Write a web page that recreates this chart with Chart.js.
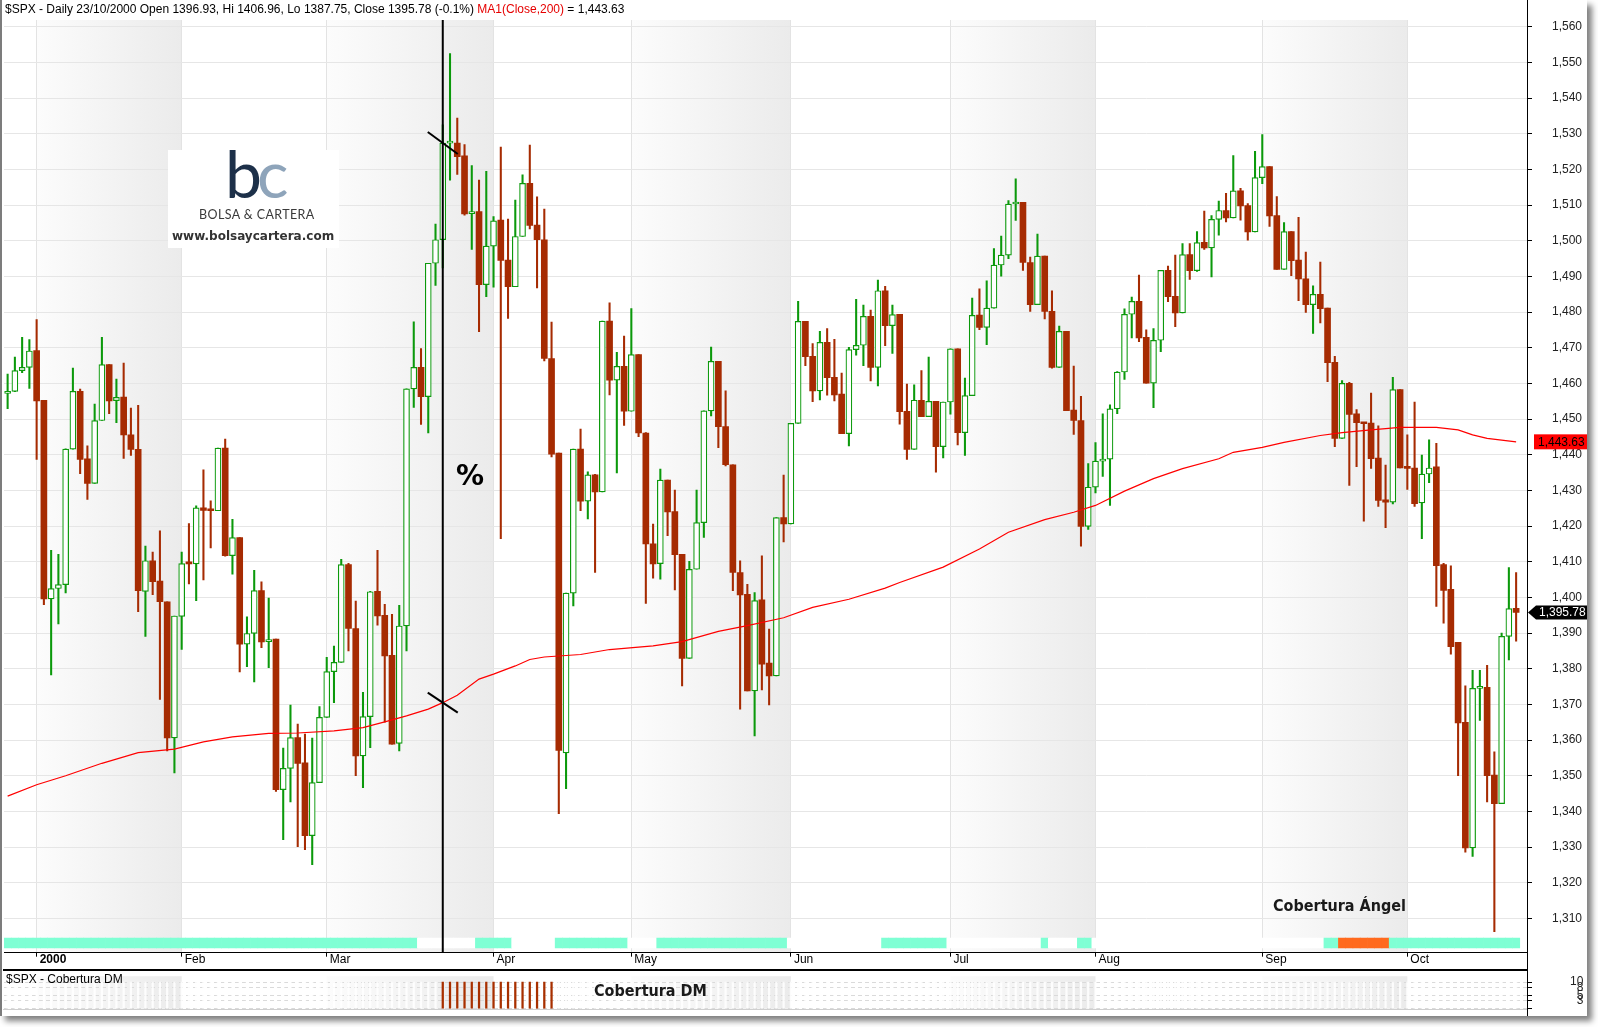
<!DOCTYPE html>
<html>
<head>
<meta charset="utf-8">
<title>$SPX - Daily</title>
<script src="https://cdn.jsdelivr.net/npm/chart.js@4.4.0/dist/chart.umd.min.js"></script>
<style>
html,body{margin:0;padding:0;background:#fff;width:1598px;height:1027px;overflow:hidden;font-family:'Liberation Sans',Arial,sans-serif}
#frame{position:absolute;left:0;top:0;width:1587px;height:1016px;background:#fff;box-shadow:5px 5px 6px rgba(0,0,0,.5);border-left:2px solid #7c7c7c;box-sizing:border-box}
#main{position:absolute;left:0;top:0}
#sub{position:absolute;left:0;top:969px}
.t{position:absolute;white-space:nowrap}
#hdr{left:5px;top:2px;font-size:12px;line-height:14px;color:#000}
#hdr .ma{color:#e60000}
#logo{position:absolute;left:168px;top:150px;width:171px;height:98px;background:#fff}
#logo .bc{position:absolute;left:57px;top:-10px;font-family:Lato,sans-serif;font-weight:400;font-size:66px;line-height:66px;letter-spacing:-5px}
#logo .b{color:#1d3049}
#logo .c{color:#8ea4ba}
#logo .name{position:absolute;left:31px;top:57px;font-family:Lato,sans-serif;font-size:12.5px;letter-spacing:.4px;color:#3a3a3a}
#logo .web{position:absolute;left:4px;top:79px;font-family:'DejaVu Sans',sans-serif;font-weight:bold;font-size:12px;color:#333}
.note{font-family:'DejaVu Sans Condensed','DejaVu Sans',sans-serif;font-stretch:condensed;font-weight:bold;font-size:16px;line-height:18px;color:#1a1a1a}
#pct{left:456px;top:462px;font-family:'DejaVu Sans',sans-serif;font-weight:bold;font-size:28px;line-height:28px;color:#000}
#angel{left:1273px;top:897px}
#dm{left:594px;top:982px}
#subhdr{left:6px;top:972px;font-size:12px;line-height:14px;color:#000}
</style>
</head>
<body>
<div id="frame"></div>
<canvas id="main" width="1598" height="969"></canvas>
<canvas id="sub" width="1598" height="47"></canvas>
<div class="t" id="hdr"></div>
<div id="logo"><span class="bc"><span class="b">b</span><span class="c">c</span></span><span class="name t">BOLSA &amp; CARTERA</span><span class="web t">www.bolsaycartera.com</span></div>
<div class="t" id="pct">%</div>
<div class="t note" id="angel">Cobertura Ángel</div>
<div class="t note" id="dm">Cobertura DM</div>
<div class="t" id="subhdr">$SPX - Cobertura DM</div>
<script>
// ---------- data ----------
var monthNames = ['Dec 1999','Jan','Feb','Mar','Apr','May','Jun','Jul','Aug','Sep','Oct'];
var monthDays = [
  [28,29,30,31],
  [3,4,5,6,7,10,11,12,13,14,18,19,20,21,24,25,26,27,28,31],
  [1,2,3,4,7,8,9,10,11,14,15,16,17,18,22,23,24,25,28,29],
  [1,2,3,6,7,8,9,10,13,14,15,16,17,20,21,22,23,24,27,28,29,30,31],
  [3,4,5,6,7,10,11,12,13,14,17,18,19,20,24,25,26,27,28],
  [1,2,3,4,5,8,9,10,11,12,15,16,17,18,19,22,23,24,25,26,30,31],
  [1,2,5,6,7,8,9,12,13,14,15,16,19,20,21,22,23,26,27,28,29,30],
  [3,5,6,7,10,11,12,13,14,17,18,19,20,21,24,25,26,27,28,31],
  [1,2,3,4,7,8,9,10,11,14,15,16,17,18,21,22,23,24,25,28,29,30,31],
  [1,5,6,7,8,11,12,13,14,15,18,19,20,21,22,25,26,27,28,29],
  [2,3,4,5,6,9,10,11,12,13,16,17,18,19,20,23]
];
var tickLabels = ['2000','Feb','Mar','Apr','May','Jun','Jul','Aug','Sep','Oct'];
var priceTicks = [1310,1320,1330,1340,1350,1360,1370,1380,1390,1400,1410,1420,1430,1440,1450,1460,1470,1480,1490,1500,1510,1520,1530,1540,1550,1560];
var dmTicks = [0,3,5,8,10];

var open = [1457.2,1457.8,1463.6,1464.5,1469.2,1455.3,1399.6,1402.5,1403.6,1441.6,
1457.8,1438.9,1432.0,1449.6,1465.3,1455.2,1456.2,1445.6,1441.5,1401.7,
1410.3,1404.6,1398.8,1360.6,1394.7,1409.6,1409.4,1425.1,1424.5,1424.3,
1441.9,1411.7,1416.8,1386.9,1389.9,1401.9,1387.6,1388.3,1346.1,1352.1,
1360.7,1353.6,1333.2,1348.1,1366.4,1379.2,1381.8,1409.2,1391.3,1355.6,
1366.6,1401.7,1395.0,1383.8,1359.1,1392.0,1458.5,1464.5,1456.3,1493.7,
1500.3,1527.4,1527.4,1523.8,1507.6,1508.2,1487.7,1498.5,1505.8,1494.6,
1487.1,1501.2,1516.1,1504.4,1500.3,1467.0,1440.5,1356.4,1401.2,1441.6,
1427.0,1434.4,1429.6,1477.5,1460.9,1464.8,1452.2,1468.1,1446.1,1415.0,
1409.5,1432.9,1424.1,1412.1,1382.9,1407.9,1421.0,1452.3,1466.2,1447.9,
1437.2,1407.0,1400.9,1373.8,1399.3,1381.6,1378.0,1422.4,1420.6,1448.8,
1477.4,1467.6,1457.9,1471.5,1461.7,1457.0,1445.9,1469.5,1470.7,1478.8,
1464.5,1486.0,1476.2,1479.4,1452.2,1441.5,1455.3,1450.7,1455.0,1442.3,
1454.8,1469.7,1446.2,1456.6,1479.2,1475.7,1481.1,1493.2,1496.0,1510.3,
1510.8,1493.9,1482.1,1495.7,1480.2,1464.5,1474.6,1452.5,1449.6,1419.9,
1430.9,1438.2,1438.8,1452.9,1463.2,1479.4,1483.0,1472.9,1460.1,1472.1,
1491.7,1484.4,1479.8,1496.1,1491.6,1499.6,1498.0,1506.0,1508.5,1506.4,
1514.0,1509.9,1502.5,1517.7,1520.8,1507.1,1492.0,1502.6,1494.6,1489.3,
1482.1,1485.0,1481.1,1465.9,1444.6,1460.0,1451.5,1449.1,1448.9,1439.1,
1427.4,1426.7,1458.3,1436.5,1436.3,1426.5,1434.6,1436.6,1409.2,1402.3,
1387.4,1365.0,1329.8,1374.5,1374.8,1350.2,1342.2,1389.1,1396.93];

var high = [1462.6,1467.4,1472.9,1472.3,1477.9,1455.3,1413.2,1412.1,1441.7,1464.3,
1458.4,1442.5,1454.2,1472.9,1465.3,1461.2,1465.7,1453.1,1453.9,1414.4,
1412.7,1418.7,1398.8,1394.8,1412.7,1420.7,1425.7,1435.8,1427.1,1441.9,
1444.4,1421.9,1416.8,1394.6,1407.6,1404.4,1399.8,1388.3,1357.8,1369.8,
1364.5,1361.7,1360.6,1369.4,1383.2,1386.4,1410.7,1409.6,1399.0,1373.4,
1401.7,1413.2,1398.1,1395.3,1397.8,1458.5,1477.3,1469.8,1493.7,1504.7,
1532.5,1552.5,1534.4,1527.0,1521.1,1517.0,1519.5,1506.8,1526.3,1506.1,
1511.4,1518.5,1526.8,1512.3,1508.9,1477.2,1440.5,1401.2,1441.6,1447.2,
1435.2,1434.5,1477.5,1482.6,1468.7,1473.3,1481.0,1468.1,1446.2,1420.6,
1436.0,1432.9,1430.1,1412.1,1410.1,1430.1,1452.3,1470.2,1466.2,1457.9,
1437.2,1410.3,1403.7,1401.4,1411.7,1391.1,1422.4,1434.3,1448.8,1483.0,
1477.4,1471.2,1474.6,1475.4,1472.4,1462.9,1470.1,1483.6,1482.0,1480.6,
1489.0,1487.2,1482.0,1479.4,1459.8,1459.6,1463.6,1467.4,1455.0,1454.8,
1469.7,1469.7,1461.5,1483.9,1486.5,1488.8,1497.8,1501.3,1511.3,1517.4,
1510.8,1495.4,1501.9,1495.7,1486.0,1476.1,1474.6,1464.9,1456.4,1437.5,
1443.4,1451.5,1454.0,1463.3,1480.9,1484.2,1490.4,1475.0,1475.4,1491.7,
1492.9,1496.0,1499.2,1499.2,1502.6,1508.3,1507.1,1511.1,1513.3,1523.9,
1514.7,1510.4,1525.1,1529.8,1520.8,1512.4,1505.1,1502.6,1506.6,1496.8,
1487.4,1494.0,1481.1,1467.6,1460.8,1460.3,1452.7,1449.1,1457.3,1448.1,
1437.1,1461.7,1458.3,1445.6,1454.8,1439.9,1444.2,1443.2,1409.6,1408.9,
1387.4,1375.2,1379.6,1379.6,1381.0,1356.7,1390.0,1408.4,1406.96];

var low = [1452.9,1457.7,1463.0,1458.6,1438.7,1398.0,1378.3,1392.6,1401.3,1441.6,
1434.7,1427.5,1432.0,1449.6,1451.5,1449.0,1439.0,1439.8,1396.0,1389.1,
1400.8,1371.4,1357.0,1350.8,1385.4,1403.8,1399.1,1404.9,1413.9,1424.3,
1411.6,1406.5,1379.1,1380.6,1376.3,1385.9,1380.3,1345.6,1332.1,1342.7,
1330.1,1329.3,1325.1,1348.1,1366.4,1370.5,1381.8,1385.0,1350.0,1346.7,
1357.9,1392.2,1365.0,1358.9,1357.0,1385.0,1453.3,1448.5,1446.1,1487.5,
1492.4,1517.0,1518.6,1507.2,1497.6,1474.5,1484.3,1487.0,1416.5,1478.2,
1487.1,1501.2,1503.3,1486.8,1466.3,1439.4,1339.4,1346.4,1397.6,1424.3,
1422.0,1407.0,1429.6,1456.8,1434.9,1448.2,1452.2,1445.1,1398.3,1405.4,
1405.1,1417.3,1402.1,1375.2,1382.9,1407.9,1416.8,1450.9,1442.0,1436.9,
1401.9,1368.7,1373.8,1361.2,1374.1,1369.9,1378.0,1415.6,1420.6,1448.8,
1465.0,1454.9,1455.4,1456.7,1455.1,1445.9,1442.5,1467.9,1465.0,1460.7,
1459.3,1470.6,1468.4,1448.6,1438.7,1441.5,1450.7,1450.7,1435.1,1439.1,
1451.4,1442.8,1439.8,1456.6,1475.1,1470.9,1481.1,1490.1,1495.0,1505.7,
1491.7,1480.2,1482.1,1478.1,1464.3,1464.5,1452.4,1445.7,1414.4,1419.1,
1429.3,1433.9,1425.8,1451.5,1461.1,1472.8,1471.7,1460.1,1453.2,1468.9,
1482.9,1475.9,1479.8,1489.2,1491.4,1497.6,1489.9,1501.6,1505.3,1506.4,
1505.8,1500.2,1502.5,1516.0,1504.0,1492.0,1492.0,1490.2,1483.2,1479.9,
1474.0,1477.0,1460.5,1442.3,1444.6,1431.4,1436.7,1421.4,1436.2,1425.5,
1419.6,1426.2,1436.3,1430.3,1425.5,1416.5,1432.2,1397.5,1392.8,1384.1,
1350.0,1328.6,1327.4,1365.5,1342.7,1306.3,1342.2,1382.5,1387.75];

var close = [1457.7,1463.6,1464.5,1469.1,1455.1,1399.6,1402.5,1403.6,1441.6,1457.8,
1438.7,1432.0,1449.6,1465.3,1455.1,1456.1,1445.6,1441.5,1401.9,1410.3,
1404.4,1398.8,1360.6,1394.8,1409.5,1409.4,1425.1,1424.4,1424.3,1441.9,
1411.7,1416.8,1386.9,1389.9,1401.9,1387.5,1388.2,1346.1,1352.1,1360.7,
1353.5,1333.2,1348.1,1366.4,1379.2,1381.8,1409.2,1391.3,1355.6,1366.6,
1401.6,1394.8,1383.6,1358.9,1392.0,1458.5,1464.5,1456.3,1493.7,1500.3,
1527.4,1527.5,1523.6,1507.5,1508.2,1487.7,1498.5,1505.6,1494.5,1487.1,
1501.2,1516.1,1504.3,1500.3,1467.0,1440.2,1357.1,1401.2,1441.6,1427.0,
1434.4,1429.6,1477.5,1460.9,1464.8,1452.2,1468.1,1446.1,1415.0,1409.4,
1432.9,1424.0,1412.0,1382.9,1407.9,1421.0,1452.3,1466.2,1447.9,1437.2,
1407.0,1400.7,1373.8,1399.1,1381.3,1378.0,1422.4,1420.6,1448.8,1477.4,
1467.5,1457.9,1471.5,1461.6,1456.8,1445.9,1469.5,1470.7,1478.8,1464.5,
1486.0,1476.2,1479.3,1452.1,1441.5,1455.3,1450.7,1455.0,1442.3,1454.8,
1469.7,1446.2,1456.6,1479.1,1475.7,1481.1,1493.2,1496.0,1510.3,1510.8,
1493.9,1482.1,1495.7,1480.2,1464.5,1474.6,1452.4,1449.6,1419.9,1430.9,
1438.2,1438.8,1452.9,1463.2,1479.4,1483.0,1472.8,1460.1,1472.1,1491.7,
1484.3,1479.8,1496.1,1491.6,1499.5,1498.0,1506.0,1508.5,1506.4,1514.0,
1509.8,1502.5,1517.7,1520.8,1507.0,1492.0,1502.6,1494.4,1489.3,1482.1,
1485.0,1481.0,1465.8,1444.6,1460.0,1451.3,1449.0,1448.7,1438.9,1427.2,
1426.7,1458.3,1436.3,1436.2,1426.3,1434.6,1436.3,1408.9,1402.0,1386.2,
1364.8,1329.8,1374.5,1374.8,1350.0,1342.2,1389.1,1396.9,1395.78];

// MA1(Close,200) read at sample days (1-based day number)
var maDay = [1,5,9,14,19,24,28,32,37,41,46,50,53,56,59,61,63,66,68,71,73,75,80,84,90,94,99,103,108,112,117,122,124,130,135,139,144,148,151,155,159,163,168,170,174,177,182,185,189,193,198,201,203,205,209];
var maValue = [1344.3,1347.5,1350.0,1353.5,1356.5,1357.5,1359.5,1360.9,1361.9,1362.0,1362.6,1363.5,1365.1,1366.8,1368.7,1370.5,1372.6,1377.1,1378.5,1380.8,1382.6,1383.3,1384.0,1385.4,1386.4,1387.6,1390.5,1392.1,1394.3,1397.2,1399.5,1402.6,1404.2,1408.5,1413.6,1418.3,1421.8,1423.9,1425.8,1429.8,1433.3,1436.1,1438.9,1440.7,1442.1,1443.5,1445.4,1446.2,1447.0,1447.7,1447.7,1447.0,1445.6,1444.6,1443.63];

// "Cobertura Ángel" strip: [first day, last day, state]
var stripRuns = [[1,57,'t'],[58,65,'w'],[66,70,'t'],[71,76,'w'],[77,86,'t'],[87,90,'w'],[91,108,'t'],[109,121,'w'],[122,130,'t'],[131,143,'w'],[144,144,'t'],[145,148,'w'],[149,150,'t'],[151,182,'w'],[183,184,'t'],[185,191,'o'],[192,209,'t']];
// "Cobertura DM" active days
var dmRuns = [[61,76]];
var markDay = 61;

// ---------- build ----------
var F = "'Liberation Sans', Arial, sans-serif";
var GREEN = '#0b990b', RED = '#a62b02';
var stripCol = {t:'#7fffd4', o:'#ff6a1e', w:'#ffffff'};

var labels = [], monthStart = [];
monthDays.forEach(function(days, m){
  if (m > 0) monthStart.push(labels.length);
  days.forEach(function(d){ labels.push(d + ' ' + monthNames[m]); });
});
labels.push(''); // right margin slot
var shaded = [1,3,5,7,9]; // Jan, Mar, May, Jul, Sep (index into monthNames)

var n = close.length;
var up = close.map(function(c,i){ return c >= open[i]; });
var cCol = up.map(function(u){ return u ? GREEN : RED; });
var bodies = open.map(function(o,i){ return [Math.min(o, close[i]), Math.max(o, close[i])]; });
var wicks = low.map(function(l,i){ return [l, high[i]]; });
var maData = close.map(function(){ return null; });
maDay.forEach(function(d,i){ maData[d-1] = maValue[i]; });

var stripColors = [], dmColors = [];
stripRuns.forEach(function(r){ for (var d=r[0]; d<=r[1]; d++) stripColors[d-1] = stripCol[r[2]]; });
for (var i=0;i<n;i++) dmColors[i] = 'rgba(255,255,255,0.85)';
dmRuns.forEach(function(r){ for (var d=r[0]; d<=r[1]; d++) dmColors[d-1] = '#a83000'; });
var stripData = close.map(function(){ return [0.47, 1.47]; });
var dmData = close.map(function(){ return 10; });

var fmt2 = function(v){ return v.toLocaleString('en-US',{minimumFractionDigits:2, maximumFractionDigits:2}); };
var pct = ((close[n-1]-close[n-2])/close[n-2]*100).toFixed(1);
document.getElementById('hdr').innerHTML = '$SPX - Daily 23/10/2000 Open ' + open[n-1].toFixed(2) + ', Hi ' + high[n-1].toFixed(2) +
  ', Lo ' + low[n-1].toFixed(2) + ', Close ' + close[n-1].toFixed(2) + ' (' + pct + '%) <span class="ma">MA1(Close,200)</span> = ' + fmt2(maValue[maValue.length-1]);

var bands = {
  id:'bands',
  beforeDraw:function(chart){
    var ctx = chart.ctx, a = chart.chartArea, x = chart.scales.x;
    ctx.save();
    shaded.forEach(function(m){
      var x0 = x.getPixelForValue(monthStart[m-1]), x1 = x.getPixelForValue(monthStart[m]);
      var g = ctx.createLinearGradient(x0,0,x1,0);
      g.addColorStop(0,'#fcfcfc'); g.addColorStop(1,'#ebebeb');
      ctx.fillStyle = g;
      ctx.fillRect(x0, a.top, x1-x0, a.bottom-a.top);
    });
    ctx.restore();
  }
};

var overlay = {
  id:'overlay',
  afterDatasetsDraw:function(chart){
    var ctx = chart.ctx, a = chart.chartArea, x = chart.scales.x, y = chart.scales.y;
    var xm = x.getPixelForValue(markDay-1);
    ctx.save();
    ctx.strokeStyle = '#000'; ctx.lineWidth = 2;
    ctx.beginPath(); ctx.moveTo(xm, a.top); ctx.lineTo(xm, a.bottom); ctx.stroke();
    var marks = [[close[markDay-1], 11], [maData[markDay-1], 10]];
    marks.forEach(function(mk){
      var yc = y.getPixelForValue(mk[0]);
      ctx.beginPath(); ctx.moveTo(xm-15, yc-mk[1]); ctx.lineTo(xm+15, yc+mk[1]); ctx.stroke();
    });
    ctx.restore();
  },
  afterDraw:function(chart){
    var ctx = chart.ctx, a = chart.chartArea, y = chart.scales.y;
    ctx.save();
    ctx.fillStyle = '#000';
    ctx.fillRect(Math.round(a.right), 0, 1, chart.height);
    // MA tag
    var ym = y.getPixelForValue(maValue[maValue.length-1]);
    ctx.fillStyle = '#ff0000';
    ctx.fillRect(a.right+7, ym-7.5, 1587-(a.right+7), 15);
    ctx.fillStyle = '#000'; ctx.font = '12px ' + F; ctx.textBaseline = 'middle';
    ctx.fillText(fmt2(maValue[maValue.length-1]), a.right+11, ym+0.5);
    // last close tag
    var yc = y.getPixelForValue(close[n-1]);
    ctx.fillStyle = '#000';
    ctx.beginPath(); ctx.moveTo(a.right+1, yc); ctx.lineTo(a.right+9, yc-7); ctx.lineTo(1587, yc-7);
    ctx.lineTo(1587, yc+7); ctx.lineTo(a.right+9, yc+7); ctx.closePath(); ctx.fill();
    ctx.fillStyle = '#fff';
    ctx.fillText(fmt2(close[n-1]), a.right+12, yc+0.5);
    ctx.restore();
  }
};

// keep the plot area on the reference's pixel rows
function pinArea(chart, top, bottom){
  var a = chart.chartArea, p = chart.options.layout.padding;
  var dt = top - a.top, db = a.bottom - bottom;
  if (Math.abs(dt) > 0.2 || Math.abs(db) > 0.2){
    p.top = Math.max(0, p.top + dt);
    p.bottom = Math.max(0, p.bottom + db);
    chart.update();
  }
}

var mainChart = new Chart(document.getElementById('main'), {
  type:'bar',
  data:{labels:labels, datasets:[
    {type:'line', data:maData, borderColor:'#ff0000', borderWidth:1.2, pointRadius:0, spanGaps:true, tension:0, order:1},
    {data:bodies, backgroundColor:up.map(function(u){ return u ? '#ffffff' : RED; }), borderColor:cCol,
     borderWidth:up.map(function(u){ return u ? 1.2 : 0; }), borderSkipped:false, barThickness:6, minBarLength:2, grouped:false, order:2},
    {data:wicks, backgroundColor:cCol, borderWidth:0, barThickness:1.4, grouped:false, order:3},
    {data:stripData, backgroundColor:stripColors, borderWidth:0, yAxisID:'ys', barPercentage:1, categoryPercentage:1, grouped:false, order:4}
  ]},
  options:{
    responsive:false, animation:false, events:[],
    layout:{padding:{top:20, left:4, right:0, bottom:0}},
    plugins:{legend:{display:false}, tooltip:{enabled:false}},
    scales:{
      x:{offset:true,
         grid:{offset:false, color:'#e3e3e3', tickColor:'#000', tickLength:4},
         border:{color:'#000', width:1},
         ticks:{autoSkip:false, maxRotation:0, align:'start', labelOffset:3, padding:-4, color:'#000',
                font:function(c){ return {family:F, size:12, weight: c.index === 0 ? 'bold' : 'normal'}; },
                callback:function(v,i){ return tickLabels[i]; }},
         afterBuildTicks:function(s){ s.ticks = monthStart.map(function(v){ return {value:v}; }); },
         afterFit:function(s){ s.height = 16.3; }},
      y:{position:'right', min:1300.4, max:1561.9,
         grid:{color:'#e6e6e6', tickColor:'#000', tickLength:25, tickBorderDash:[5,100]},
         border:{display:false},
         ticks:{autoSkip:false, padding:0, color:'#222', font:{family:F, size:12},
                callback:function(v){ return v.toLocaleString('en-US'); }},
         afterBuildTicks:function(s){ s.ticks = priceTicks.map(function(v){ return {value:v}; }); },
         afterFit:function(s){ s.width = 71; }},
      ys:{display:false, min:0, max:93.27}
    }
  },
  plugins:[bands, overlay]
});
pinArea(mainChart, 20, 952.7);

var subOverlay = {
  id:'subOverlay',
  afterDraw:function(chart){
    var ctx = chart.ctx, a = chart.chartArea;
    ctx.save();
    ctx.fillStyle = '#000';
    ctx.fillRect(3, 0, a.right-3, 2);
    ctx.fillRect(Math.round(a.right), 0, 1, chart.height);
    ctx.fillStyle = '#cfcfcf';
    ctx.fillRect(3, Math.round(a.bottom), a.right-3, 1);
    ctx.restore();
  }
};

var subChart = new Chart(document.getElementById('sub'), {
  type:'bar',
  data:{labels:labels, datasets:[
    {data:dmData, backgroundColor:dmColors, borderWidth:0, barThickness:1.6, grouped:false}
  ]},
  options:{
    responsive:false, animation:false, events:[],
    layout:{padding:{top:0, left:4, right:0, bottom:4.3}},
    plugins:{legend:{display:false}, tooltip:{enabled:false}},
    scales:{
      x:{display:false, offset:true},
      y:{position:'right', min:0, max:12.2,
         grid:{color:'#dadada', tickColor:'#000', tickLength:43, tickBorderDash:[5,100]},
         border:{display:false, dash:[4,3]},
         ticks:{autoSkip:false, padding:0, color:'#222', font:{family:F, size:12},
                callback:function(v){ return v === 0 ? '' : (v < 10 ? '\u2007' + v : String(v)); }},
         afterBuildTicks:function(s){ s.ticks = dmTicks.map(function(v){ return {value:v}; }); },
         afterFit:function(s){ s.width = 71; }}
    }
  },
  plugins:[bands, subOverlay]
});
pinArea(subChart, 0, 42.7);
</script>
</body>
</html>
